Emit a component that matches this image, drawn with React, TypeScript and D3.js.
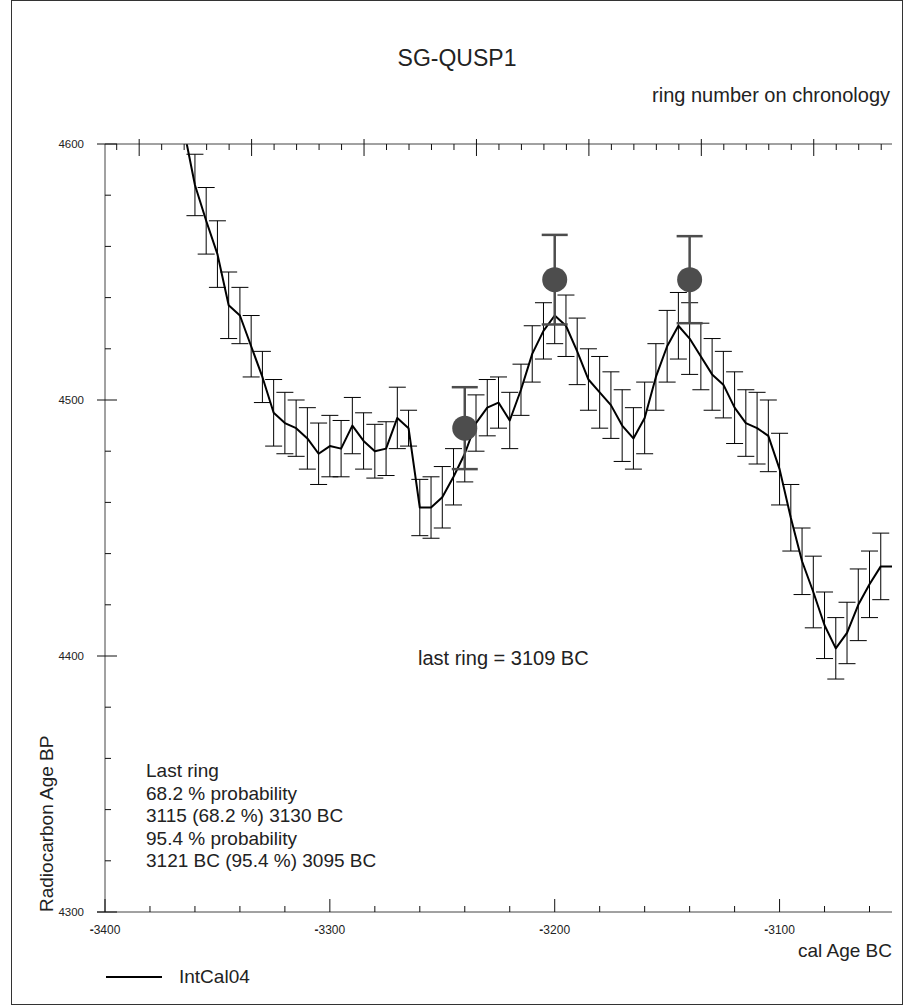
import React from "react";
import * as d3 from "d3";

// IntCal04 calibration curve (cal year BC as negative, radiocarbon age BP, 1-sigma)
const curveYears = [
  -3365, -3360, -3355, -3350, -3345, -3340, -3335, -3330, -3325, -3320,
  -3315, -3310, -3305, -3300, -3295, -3290, -3285, -3280, -3275, -3270,
  -3265, -3260, -3255, -3250, -3245, -3240, -3235, -3230, -3225, -3220,
  -3215, -3210, -3205, -3200, -3195, -3190, -3185, -3180, -3175, -3170,
  -3165, -3160, -3155, -3150, -3145, -3140, -3135, -3130, -3125, -3120,
  -3115, -3110, -3105, -3100, -3095, -3090, -3085, -3080, -3075, -3070,
  -3065, -3060, -3055, -3050,
];
const curveAges = [
  4606, 4584, 4570, 4557, 4537, 4533, 4521, 4509, 4495, 4491,
  4489, 4485, 4479, 4482, 4481, 4490, 4484, 4480, 4481, 4493,
  4489, 4458, 4458, 4462, 4470, 4479, 4491, 4497, 4499, 4492,
  4504, 4518, 4527, 4533, 4529, 4519, 4508, 4503, 4498, 4490,
  4485, 4493, 4509, 4521, 4529, 4524, 4517, 4510, 4506, 4497,
  4491, 4489, 4486, 4473, 4454, 4437, 4425, 4412, 4403, 4409,
  4420, 4428, 4435, 4435,
];
const curveErrors = [
  12, 12, 13, 13, 13, 11, 12, 10, 13, 12,
  11, 12, 12, 12, 11, 11, 11, 10.5, 10.5, 12,
  7, 11, 12, 12, 11, 11, 11, 11, 10, 11,
  10, 11, 11, 11, 12, 13, 12, 14, 13, 14,
  12, 14, 13, 14, 13, 14, 13, 14, 13, 14,
  13, 14, 14, 14, 13, 13, 14, 13, 12, 12,
  14, 13, 13, 13,
];

// Measured samples (wiggle match)
const sampleYears = [-3240, -3200, -3140];
const sampleAges = [4489, 4547, 4547];
const sampleErrors = [16, 17.5, 17];

// Axes
const xDomain = [-3400, -3050];
const yDomain = [4300, 4600];
const xMajorTicks = [-3400, -3300, -3200, -3100];
const xMinorTicks = [-3380, -3360, -3340, -3320, -3280, -3260, -3240, -3220, -3180, -3160, -3140, -3120, -3080, -3060];
const yMajorTicks = [4300, 4400, 4500, 4600];
const yMinorTicks = [4320, 4340, 4360, 4380, 4420, 4440, 4460, 4480, 4520, 4540, 4560, 4580];
const ringZeroYear = -3384.8;
const ringTicks = [-10, 0, 10, 20, 30, 40, 50, 60, 70, 80, 90, 100, 110, 120, 130, 140, 150, 160, 170, 180, 190, 200, 210, 220, 230, 240, 250, 260, 270, 280, 290, 300, 310, 320, 330];

const infoLines = [
  "Last ring",
  "68.2 % probability",
  "3115 (68.2 %) 3130 BC",
  "95.4 % probability",
  "3121 BC (95.4 %) 3095 BC",
];

const FONT = "'Liberation Sans', Arial, Helvetica, sans-serif";

export default function App() {
  const W = 904;
  const H = 1005;
  const left = 105, right = 892, top = 144, bottom = 912;
  const x = d3.scaleLinear().domain(xDomain).range([left, right]);
  const y = d3.scaleLinear().domain(yDomain).range([bottom, top]);
  const ring = d3.scaleLinear().domain([0, 1]).range([x(ringZeroYear), x(ringZeroYear + 1)]);

  const pts = curveYears.map((yr, i) => ({ yr, age: curveAges[i], err: curveErrors[i] }));
  const line = d3.line<any>().x((d) => x(d.yr)).y((d) => y(d.age));
  const bars = pts.filter((d) => d.yr > xDomain[0] && d.yr < xDomain[1] && d.age + d.err <= yDomain[1]);
  const capW = 8.5;
  const sCap = 13;

  return (
    <svg width={W} height={H} style={{ position: "absolute", left: 0, top: 0, background: "#fff" }} fontFamily={FONT}>
      <defs>
        <clipPath id="plot">
          <rect x={left} y={top} width={right - left} height={bottom - top} />
        </clipPath>
      </defs>
      <rect x={11.5} y={0.5} width={891} height={1004} fill="none" stroke="#333" strokeWidth={1} />

      <text x={457} y={66} fontSize={23} textAnchor="middle" fill="#222">SG-QUSP1</text>
      <text x={890} y={102} fontSize={20} textAnchor="end" fill="#222">ring number on chronology</text>

      {/* curve error bars */}
      <g clipPath="url(#plot)" stroke="#000" strokeWidth={1}>
        {bars.map((d, i) => {
          const cx = x(d.yr);
          const y1 = y(d.age + d.err);
          const y2 = y(d.age - d.err);
          return (
            <g key={i}>
              <line x1={cx} x2={cx} y1={y1} y2={y2} />
              <line x1={cx - capW} x2={cx + capW} y1={y1} y2={y1} />
              <line x1={cx - capW} x2={cx + capW} y1={y2} y2={y2} />
            </g>
          );
        })}
      </g>
      <path d={line(pts) || ""} clipPath="url(#plot)" fill="none" stroke="#000" strokeWidth={2} strokeLinejoin="round" />

      {/* samples */}
      <g stroke="#4d4d4d" strokeWidth={2.5}>
        {sampleYears.map((yr, i) => {
          const cx = x(yr);
          const y1 = y(sampleAges[i] + sampleErrors[i]);
          const y2 = y(sampleAges[i] - sampleErrors[i]);
          return (
            <g key={i}>
              <line x1={cx} x2={cx} y1={y1} y2={y2} />
              <line x1={cx - sCap} x2={cx + sCap} y1={y1} y2={y1} />
              <line x1={cx - sCap} x2={cx + sCap} y1={y2} y2={y2} />
            </g>
          );
        })}
      </g>
      {sampleYears.map((yr, i) => (
        <circle key={i} cx={x(yr)} cy={y(sampleAges[i])} r={12.5} fill="#4d4d4d" />
      ))}

      {/* axes */}
      <g stroke="#444" strokeWidth={1}>
        <line x1={left} x2={left} y1={top} y2={bottom} />
        <line x1={left - 8} x2={right} y1={bottom} y2={bottom} />
        <line x1={left} x2={right} y1={top} y2={top} />
      </g>
      <g stroke="#111" strokeWidth={1}>
        {xMajorTicks.map((t) => (
          <line key={t} x1={x(t)} x2={x(t)} y1={bottom - 13} y2={bottom} />
        ))}
        {xMinorTicks.map((t) => (
          <line key={t} x1={x(t)} x2={x(t)} y1={bottom - 6} y2={bottom} />
        ))}
        {yMajorTicks.map((t) => (
          <line key={t} x1={left - 8} x2={left + 12} y1={y(t)} y2={y(t)} />
        ))}
        {yMinorTicks.map((t) => (
          <line key={t} x1={left} x2={left + 6} y1={y(t)} y2={y(t)} />
        ))}
        {ringTicks.map((r) => {
          const major = r % 50 === 0;
          return (
            <line key={r} x1={ring(r)} x2={ring(r)} y1={major ? top - 5 : top} y2={major ? top + 12 : top + 6} />
          );
        })}
      </g>
      <g fontSize={12} fill="#222" textAnchor="middle">
        {xMajorTicks.map((t) => (
          <text key={t} x={x(t)} y={bottom + 22}>
            <tspan fontWeight="bold">-</tspan>
            {String(Math.abs(t))}
          </text>
        ))}
      </g>
      <g fontSize={11.5} fill="#222" textAnchor="end">
        {yMajorTicks.map((t) => (
          <text key={t} x={left - 21} y={y(t) + 4}>{t}</text>
        ))}
      </g>

      <text x={892} y={957} fontSize={19} textAnchor="end" fill="#222">cal Age BC</text>
      <text transform="translate(53,912) rotate(-90)" fontSize={19} textAnchor="start" fill="#222">Radiocarbon Age BP</text>

      <text x={418} y={665} fontSize={20} fill="#222">last ring = 3109 BC</text>
      <g fontSize={19} fill="#222">
        {infoLines.map((s, i) => (
          <text key={i} x={146} y={777 + i * 22.5}>{s}</text>
        ))}
      </g>

      <line x1={106} x2={162} y1={977} y2={977} stroke="#000" strokeWidth={2} />
      <text x={179} y={983} fontSize={19} fill="#222">IntCal04</text>
    </svg>
  );
}
